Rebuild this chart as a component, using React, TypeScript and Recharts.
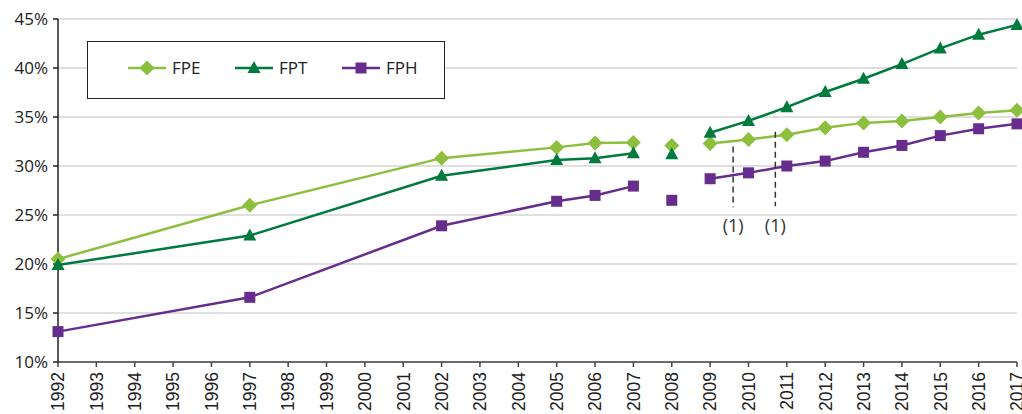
import { LineChart, Line, XAxis, YAxis, CartesianGrid, ReferenceLine, ReferenceDot } from 'recharts';

// years with data before the series break, the isolated 2008 value, and after the break
const yearsA = [1992, 1997, 2002, 2005, 2006, 2007];
const yearsB = [2009, 2010, 2011, 2012, 2013, 2014, 2015, 2016, 2017];
const breakYear = 2008;

const fpeA = [20.5, 26.0, 30.8, 31.9, 32.35, 32.4];
const fpe2008 = 32.1;
const fpeB = [32.3, 32.7, 33.2, 33.9, 34.4, 34.6, 35.0, 35.4, 35.7];

const fptA = [19.9, 22.9, 29.0, 30.6, 30.8, 31.3];
const fpt2008 = 31.2;
const fptB = [33.4, 34.6, 36.0, 37.55, 38.9, 40.4, 42.0, 43.4, 44.4];

const fphA = [13.1, 16.6, 23.9, 26.4, 27.0, 27.95];
const fph2008 = 26.5;
const fphB = [28.7, 29.3, 30.0, 30.5, 31.4, 32.1, 33.1, 33.8, 34.3];

const xTicks = Array.from({ length: 26 }, (_, i) => 1992 + i);
const yTicks = [10, 15, 20, 25, 30, 35, 40, 45];

// footnote markers: x position, top and bottom of the dashed line, label height
const notes = [
  { x: 2009.6, top: 32.0, bottom: 25.8, label: 23.9 },
  { x: 2010.7, top: 33.5, bottom: 25.9, label: 23.9 },
];

const COLORS = { fpe: '#8dbf3f', fpt: '#007a3d', fph: '#662d8c' };
const FONT = '"Open Sans", "DejaVu Sans", sans-serif';

const toRows = (years: number[], vals: number[]) => years.map((year, i) => ({ year, v: vals[i] }));

type Shape = 'diamond' | 'triangle' | 'square';

function Marker({ cx, cy, shape, color }: { cx: number; cy: number; shape: Shape; color: string }) {
  if (shape === 'diamond') {
    const h = 7.5;
    return <path d={`M${cx},${cy - h}L${cx + h},${cy}L${cx},${cy + h}L${cx - h},${cy}Z`} fill={color} />;
  }
  if (shape === 'triangle') {
    return <path d={`M${cx},${cy - 7}L${cx + 6.5},${cy + 5}L${cx - 6.5},${cy + 5}Z`} fill={color} />;
  }
  return <rect x={cx - 5.5} y={cy - 5.5} width={11} height={11} fill={color} />;
}

const dotFor = (shape: Shape, color: string) => (p: any) =>
  <Marker key={`m-${shape}-${p.index}-${p.cx}`} cx={p.cx} cy={p.cy} shape={shape} color={color} />;

const XTick = ({ x, y, payload }: any) => (
  <g transform={`translate(${x},${y})`}>
    <text
      transform="rotate(-90)"
      x={0}
      y={0}
      dy="0.36em"
      textAnchor="end"
      fontFamily='"Liberation Sans", Arial, sans-serif'
      fontSize={17.5}
      fill="#222"
    >
      {payload.value}
    </text>
  </g>
);

const series: { key: string; name: string; shape: Shape; color: string; a: number[]; mid: number; b: number[] }[] = [
  { key: 'fpe', name: 'FPE', shape: 'diamond', color: COLORS.fpe, a: fpeA, mid: fpe2008, b: fpeB },
  { key: 'fpt', name: 'FPT', shape: 'triangle', color: COLORS.fpt, a: fptA, mid: fpt2008, b: fptB },
  { key: 'fph', name: 'FPH', shape: 'square', color: COLORS.fph, a: fphA, mid: fph2008, b: fphB },
];

function LegendBox() {
  return (
    <div
      style={{
        position: 'absolute',
        left: 87,
        top: 41,
        width: 356,
        height: 56,
        border: '1.5px solid #222',
        background: '#fff',
        fontFamily: FONT,
        fontSize: 17,
        color: '#222',
      }}
    >
      {series.map((s, i) => (
        <div
          key={s.key}
          style={{ position: 'absolute', left: 40 + i * 107, top: 14, display: 'flex', alignItems: 'center', gap: 6 }}
        >
          <svg width={38} height={20}>
            <line x1={0} y1={10} x2={38} y2={10} stroke={s.color} strokeWidth={2.5} />
            <Marker cx={19} cy={10} shape={s.shape} color={s.color} />
          </svg>
          <span>{s.name}</span>
        </div>
      ))}
    </div>
  );
}

export default function App() {
  return (
    <div style={{ position: 'absolute', left: 0, top: 0, width: 1022, height: 414, background: '#fff' }}>
      <LineChart width={1022} height={414} margin={{ top: 19, right: 5, left: 8, bottom: 0 }}>
        <CartesianGrid horizontal vertical={false} stroke="#d4d4d4" strokeWidth={1.5} />
        <XAxis
          type="number"
          dataKey="year"
          domain={[1992, 2017]}
          ticks={xTicks}
          interval={0}
          tick={<XTick />}
          tickSize={5}
          tickMargin={5}
          height={52}
          axisLine={{ stroke: '#444', strokeWidth: 1.5 }}
          tickLine={{ stroke: '#444', strokeWidth: 1.5 }}
          allowDuplicatedCategory={false}
        />
        <YAxis
          type="number"
          domain={[10, 45]}
          ticks={yTicks}
          interval={0}
          width={50}
          tickSize={5}
          tickMargin={5}
          tickFormatter={(v: number) => `${v}%`}
          tick={{ fontFamily: FONT, fontSize: 17, fill: '#222' }}
          axisLine={{ stroke: '#222', strokeWidth: 1.5 }}
          tickLine={{ stroke: '#222', strokeWidth: 1.5 }}
        />
        {series.map((s) => (
          <Line
            key={`${s.key}-a`}
            data={toRows(yearsA, s.a)}
            dataKey="v"
            type="linear"
            stroke={s.color}
            strokeWidth={2.5}
            dot={dotFor(s.shape, s.color)}
            activeDot={false}
            isAnimationActive={false}
          />
        ))}
        {series.map((s) => (
          <Line
            key={`${s.key}-mid`}
            data={toRows([breakYear], [s.mid])}
            dataKey="v"
            type="linear"
            stroke="none"
            dot={dotFor(s.shape, s.color)}
            activeDot={false}
            isAnimationActive={false}
          />
        ))}
        {series.map((s) => (
          <Line
            key={`${s.key}-b`}
            data={toRows(yearsB, s.b)}
            dataKey="v"
            type="linear"
            stroke={s.color}
            strokeWidth={2.5}
            dot={dotFor(s.shape, s.color)}
            activeDot={false}
            isAnimationActive={false}
          />
        ))}
        {notes.map((n, i) => (
          <ReferenceLine
            key={`nl-${i}`}
            segment={[
              { x: n.x, y: n.top },
              { x: n.x, y: n.bottom },
            ]}
            stroke="#333"
            strokeWidth={1.5}
            strokeDasharray="6 4"
          />
        ))}
        {notes.map((n, i) => (
          <ReferenceDot
            key={`nd-${i}`}
            x={n.x}
            y={n.label}
            r={0}
            shape={(p: any) => (
              <text
                x={p.cx}
                y={p.cy}
                dy="0.35em"
                textAnchor="middle"
                fontFamily={FONT}
                fontSize={18}
                fill="#333"
              >
                (1)
              </text>
            )}
          />
        ))}
      </LineChart>
      <LegendBox />
    </div>
  );
}
